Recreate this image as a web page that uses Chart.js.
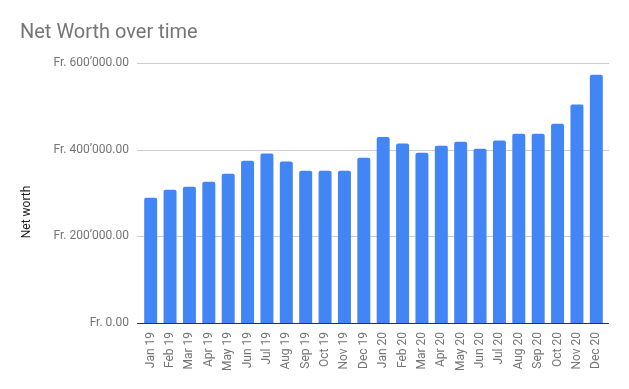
<!DOCTYPE html>
<html>
<head>
<meta charset="utf-8">
<script src="https://cdn.jsdelivr.net/npm/chart.js@4.4.1/dist/chart.umd.min.js"></script>
<style>
  html, body { margin: 0; padding: 0; background: #fff; }
  canvas { display: block; }
</style>
</head>
<body>
<canvas id="chart" width="629" height="389"></canvas>
<script>
// Net worth per month (CHF)
const months = [
  'Jan 19', 'Feb 19', 'Mar 19', 'Apr 19', 'May 19', 'Jun 19',
  'Jul 19', 'Aug 19', 'Sep 19', 'Oct 19', 'Nov 19', 'Dec 19',
  'Jan 20', 'Feb 20', 'Mar 20', 'Apr 20', 'May 20', 'Jun 20',
  'Jul 20', 'Aug 20', 'Sep 20', 'Oct 20', 'Nov 20', 'Dec 20',
];
const netWorth = [
  289000, 307500, 314500, 326000, 344500, 374500,
  391000, 372500, 351500, 351500, 351500, 381500,
  429500, 414000, 393000, 409000, 418500, 402000,
  421000, 437000, 437000, 460000, 504000, 573000,
];
const yTicks = [0, 200000, 400000, 600000];

const FONT = 'Roboto, "Noto Sans", sans-serif';

function formatChf(v) {
  return 'Fr. ' + String(v).replace(/\B(?=(\d{3})+(?!\d))/g, '\u2019') + '.00';
}

// gridlines, baseline, title and axis title
const decor = {
  id: 'decor',
  beforeDatasetsDraw(chart) {
    const { ctx, scales: { y } } = chart;
    ctx.save();
    ctx.strokeStyle = '#cccccc';
    ctx.lineWidth = 1;
    yTicks.forEach(v => {
      if (v === 0) return;
      const py = Math.round(y.getPixelForValue(v)) + 0.5;
      ctx.beginPath();
      ctx.moveTo(137, py);
      ctx.lineTo(609, py);
      ctx.stroke();
    });
    ctx.restore();
  },
  afterDatasetsDraw(chart) {
    const { ctx, scales: { y } } = chart;
    const py = Math.round(y.getPixelForValue(0)) + 0.5;
    ctx.save();
    ctx.strokeStyle = '#333333';
    ctx.lineWidth = 1;
    ctx.beginPath();
    ctx.moveTo(137, py);
    ctx.lineTo(609, py);
    ctx.stroke();

    ctx.fillStyle = '#757575';
    ctx.font = '20px ' + FONT;
    ctx.textBaseline = 'alphabetic';
    ctx.textAlign = 'left';
    ctx.fillText('Net Worth over time', 20, 38);

    ctx.translate(27, 212);
    ctx.rotate(-Math.PI / 2);
    ctx.fillStyle = '#222222';
    ctx.font = '12px ' + FONT;
    ctx.textAlign = 'center';
    ctx.textBaseline = 'middle';
    ctx.fillText('Net worth', 0, 0);
    ctx.restore();
  },
};

new Chart(document.getElementById('chart'), {
  type: 'bar',
  data: {
    labels: months,
    datasets: [{
      data: netWorth,
      backgroundColor: '#4285f4',
      borderRadius: 2,
      categoryPercentage: 1,
      barPercentage: 0.67,
    }],
  },
  options: {
    responsive: false,
    animation: false,
    events: [],
    layout: { padding: { top: 63, right: 23, bottom: 0, left: 0 } },
    plugins: {
      legend: { display: false },
      title: { display: false },
      tooltip: { enabled: false },
    },
    scales: {
      x: {
        grid: { display: false, drawTicks: false },
        border: { display: false },
        ticks: {
          autoSkip: false,
          minRotation: 90,
          maxRotation: 90,
          padding: 9,
          color: '#757575',
          font: { family: FONT, size: 12 },
        },
        afterFit(scale) { scale.height = 66; },
      },
      y: {
        min: 0,
        max: 600000,
        grid: { display: false, drawTicks: false },
        border: { display: false },
        ticks: {
          padding: 12,
          color: '#757575',
          font: { family: FONT, size: 12 },
          callback: v => formatChf(v),
        },
        afterBuildTicks(scale) { scale.ticks = yTicks.map(v => ({ value: v })); },
        afterFit(scale) { scale.width = 141; },
      },
    },
  },
  plugins: [decor],
});
</script>
</body>
</html>
